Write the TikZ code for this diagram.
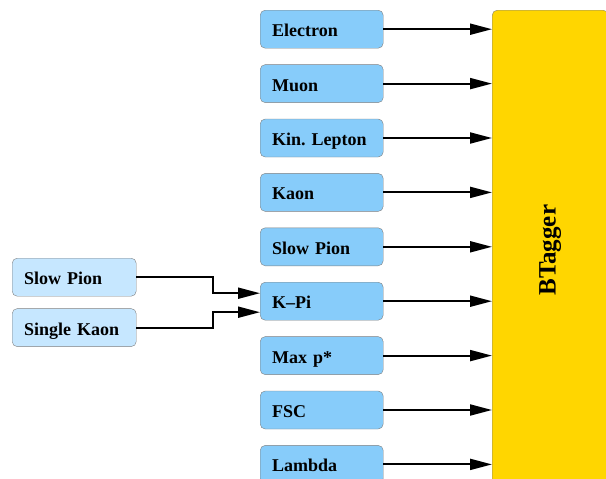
\documentclass[tikz,border=0pt]{standalone}
\usepackage{fontspec}
\setmainfont{Liberation Serif}
\usetikzlibrary{arrows.meta, positioning, calc}
\frenchspacing

\begin{document}
\begin{tikzpicture}[x=1pt, y=-1pt,
    inbox/.style={rectangle, draw=gray, rounded corners=5pt,
        fill=inblue, text width=99pt, inner xsep=12pt,
        align=left, minimum height=38pt, text height=17pt, text depth=2pt,
        font=\fontsize{18}{20}\selectfont\bfseries},
    subbox/.style={inbox, fill=subblue, text width=100pt},
    tagbox/.style={rectangle, draw=gray, rounded corners=5pt,
        fill=tagyellow, minimum width=116pt, minimum height=480pt},
    arrow/.style={-{Triangle[length=22pt, width=11pt]}, line width=2pt}
]
\definecolor{tagyellow}{HTML}{FFD600}
\definecolor{inblue}{HTML}{87CCFA}
\definecolor{subblue}{HTML}{C6E7FF}
\useasboundingbox (0,0) rectangle (606,479);
\clip (0,0) rectangle (606,479);
% inputs of the tagger, one column
\node[inbox, anchor=north west] (ele) at (260,10) {Electron};
\node[inbox, below=16pt of ele] (muo) {Muon};
\node[inbox, below=16pt of muo] (kin) {Kin. Lepton};
\node[inbox, below=16pt of kin] (kao) {Kaon};
\node[inbox, below=16pt of kao] (spi) {Slow Pion};
\node[inbox, below=16pt of spi] (kpi) {K--Pi};
\node[inbox, below=16pt of kpi] (mxp) {Max p*};
\node[inbox, below=16pt of mxp] (fsc) {FSC};
\node[inbox, below=16pt of fsc] (lam) {Lambda};
% sub-taggers feeding K-Pi
\node[subbox, anchor=north west] (slp) at (12,258) {Slow Pion};
\node[subbox, below=12pt of slp] (sgk) {Single Kaon};
% the tagger itself
\node[tagbox, anchor=north west] (btag) at (492,10) {};
\node[rotate=90, font=\fontsize{25}{28}\selectfont\bfseries]
    at (btag.center) {BTagger};
% arrows
\draw[arrow] (ele) -- (ele -| btag.west);
\draw[arrow] (muo) -- (muo -| btag.west);
\draw[arrow] (kin) -- (kin -| btag.west);
\draw[arrow] (kao) -- (kao -| btag.west);
\draw[arrow] (spi) -- (spi -| btag.west);
\draw[arrow] (kpi) -- (kpi -| btag.west);
\draw[arrow] (mxp) -- (mxp -| btag.west);
\draw[arrow] (fsc) -- (fsc -| btag.west);
\draw[arrow] (lam) -- (lam -| btag.west);
\draw[arrow] (slp.east) -- ++(77,0) |- ($(kpi.west)+(0,-8)$);
\draw[arrow] (sgk.east) -- ++(77,0) |- ($(kpi.west)+(0,11)$);
\end{tikzpicture}
\end{document}
